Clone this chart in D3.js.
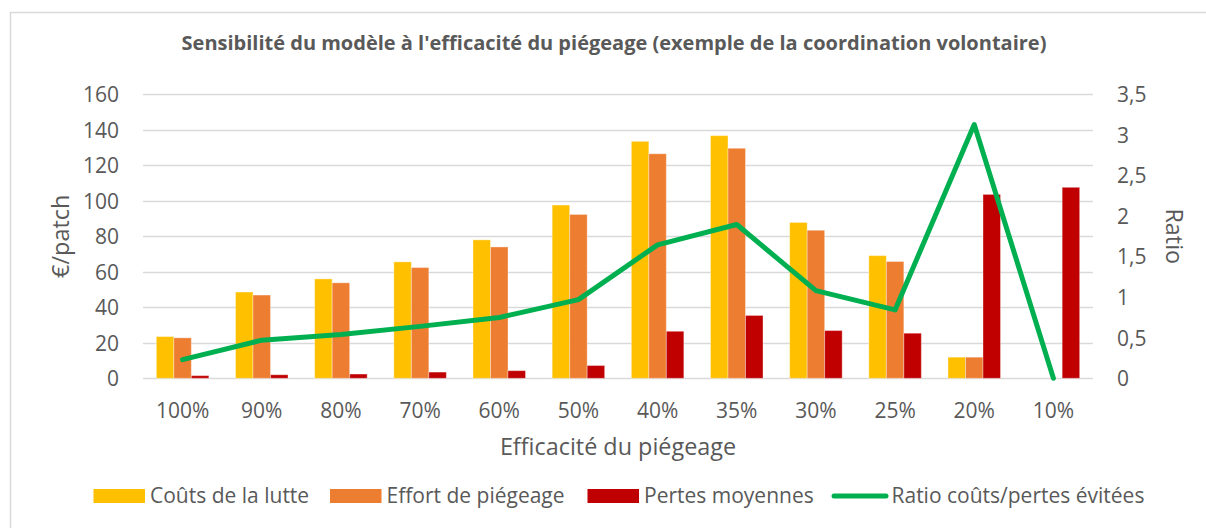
<!DOCTYPE html>
<html>
<head>
<meta charset="utf-8">
<script src="https://cdn.jsdelivr.net/npm/d3@7"></script>
<style>
  html, body { margin: 0; padding: 0; background: #fff; }
  svg { display: block; font-family: "Open Sans", "Noto Sans", sans-serif; }
</style>
</head>
<body>
<svg id="chart" width="1206" height="528"></svg>
<script>
// Efficacité du piégeage (catégories de l'axe X)
const categories = ["100%", "90%", "80%", "70%", "60%", "50%", "40%", "35%", "30%", "25%", "20%", "10%"];
// Séries en €/patch (axe gauche)
const coutsLutte = [23.5, 48.6, 56.0, 65.6, 78.0, 97.6, 133.5, 136.7, 87.8, 69.1, 11.9, 0];
const effortPiegeage = [22.8, 46.9, 53.8, 62.4, 74.0, 92.3, 126.5, 129.6, 83.4, 65.8, 11.9, 0];
const pertesMoyennes = [1.5, 2.0, 2.4, 3.5, 4.3, 7.2, 26.5, 35.4, 26.9, 25.4, 103.6, 107.6];
// Ratio coûts/pertes évitées (axe droit)
const ratio = [0.23, 0.47, 0.54, 0.64, 0.75, 0.97, 1.645, 1.895, 1.08, 0.843, 3.128, 0];
// Graduations
const leftTicks = [0, 20, 40, 60, 80, 100, 120, 140, 160];
const rightTicks = [0, 0.5, 1, 1.5, 2, 2.5, 3, 3.5];

const seriesNames = ["Coûts de la lutte", "Effort de piégeage", "Pertes moyennes"];
const seriesColors = ["#FFC000", "#ED7D31", "#C00000"];
const lineName = "Ratio coûts/pertes évitées";
const lineColor = "#00B050";
const textColor = "#595959";
const tickSize = 21;
const axisTitleSize = 23.4;

const svg = d3.select("#chart");

// Cadre de la zone de graphique
svg.append("rect")
  .attr("x", 10.5).attr("y", 12.5)
  .attr("width", 1300).attr("height", 600)
  .attr("fill", "#fff").attr("stroke", "#D9D9D9").attr("stroke-width", 1.5);

const plot = { left: 143, right: 1093, top: 94.3, bottom: 378.3 };

const x = d3.scaleBand().domain(categories)
  .range([plot.left, plot.right]).paddingInner(0.337).paddingOuter(0.1685);
const xSub = d3.scaleBand().domain(d3.range(3)).range([0, x.bandwidth()]);
const yLeft = d3.scaleLinear().domain([0, 160]).range([plot.bottom, plot.top]);
const yRight = d3.scaleLinear().domain([0, 3.5]).range([plot.bottom, plot.top]);

// Titre
svg.append("text")
  .attr("x", 614).attr("y", 50)
  .attr("text-anchor", "middle")
  .attr("font-size", 20).attr("font-weight", 700)
  .attr("fill", textColor)
  .text("Sensibilité du modèle à l'efficacité du piégeage (exemple de la coordination volontaire)");

// Quadrillage horizontal
svg.append("g").selectAll("line").data(leftTicks).join("line")
  .attr("x1", plot.left).attr("x2", plot.right)
  .attr("y1", d => Math.round(yLeft(d)) + 0.5).attr("y2", d => Math.round(yLeft(d)) + 0.5)
  .attr("stroke", "#D9D9D9").attr("stroke-width", 1.3);

// Axe gauche
const axL = svg.append("g").attr("transform", `translate(${plot.left - 24},0)`)
  .call(d3.axisLeft(yLeft).tickValues(leftTicks).tickSize(0).tickPadding(0));
axL.select(".domain").remove();
axL.selectAll("text").attr("font-size", tickSize).attr("fill", textColor)
  .attr("font-family", "Open Sans").attr("dy", "0.35em");

// Axe droit
const fmtR = d => String(d).replace(".", ",");
const axR = svg.append("g").attr("transform", `translate(${plot.right + 24},0)`)
  .call(d3.axisRight(yRight).tickValues(rightTicks).tickFormat(fmtR).tickSize(0).tickPadding(0));
axR.select(".domain").remove();
axR.selectAll("text").attr("font-size", tickSize).attr("fill", textColor)
  .attr("font-family", "Open Sans").attr("dy", "0.35em");

// Axe X
const axX = svg.append("g").attr("transform", `translate(0,${plot.bottom})`)
  .call(d3.axisBottom(x).tickSize(0).tickPadding(0));
axX.select(".domain").remove();
axX.selectAll("text").attr("font-size", tickSize).attr("fill", textColor)
  .attr("font-family", "Open Sans").attr("dy", 0).attr("y", 39.5);

// Titres des axes
svg.append("text")
  .attr("x", (plot.left + plot.right) / 2).attr("y", 454.5)
  .attr("text-anchor", "middle").attr("font-size", axisTitleSize).attr("fill", textColor)
  .text("Efficacité du piégeage");
svg.append("text")
  .attr("transform", `translate(69,${(plot.top + plot.bottom) / 2}) rotate(-90)`)
  .attr("text-anchor", "middle").attr("font-size", axisTitleSize).attr("fill", textColor)
  .text("€/patch");
svg.append("text")
  .attr("transform", `translate(1166,${(plot.top + plot.bottom) / 2}) rotate(90)`)
  .attr("text-anchor", "middle").attr("font-size", axisTitleSize).attr("fill", textColor)
  .text("Ratio");

// Barres groupées
const barData = categories.map((c, i) => ({
  cat: c,
  vals: [coutsLutte[i], effortPiegeage[i], pertesMoyennes[i]]
}));
const groups = svg.append("g").selectAll("g").data(barData).join("g")
  .attr("transform", d => `translate(${x(d.cat)},0)`);
groups.selectAll("rect")
  .data(d => d.vals.map((v, k) => ({ v, k })).filter(e => e.v > 0))
  .join("rect")
  .attr("x", e => xSub(e.k))
  .attr("width", xSub.bandwidth())
  .attr("y", e => yLeft(e.v))
  .attr("height", e => yLeft(0) - yLeft(e.v))
  .attr("fill", e => seriesColors[e.k])
  .attr("stroke", "rgba(255,255,255,0.35)").attr("stroke-width", 1);

// Courbe du ratio
const line = d3.line()
  .x((d, i) => x(categories[i]) + x.bandwidth() / 2)
  .y(d => yRight(d));
svg.append("path").datum(ratio)
  .attr("d", line)
  .attr("fill", "none").attr("stroke", lineColor)
  .attr("stroke-width", 5).attr("stroke-linejoin", "round").attr("stroke-linecap", "round");

// Légende
const legendY = 496;
const legendItems = [
  { name: seriesNames[0], color: seriesColors[0], x: 93.5, type: "rect" },
  { name: seriesNames[1], color: seriesColors[1], x: 330, type: "rect" },
  { name: seriesNames[2], color: seriesColors[2], x: 587.5, type: "rect" },
  { name: lineName, color: lineColor, x: 832, type: "line" }
];
const leg = svg.append("g").selectAll("g").data(legendItems).join("g")
  .attr("transform", d => `translate(${d.x},${legendY})`);
leg.filter(d => d.type === "rect").append("rect")
  .attr("x", 0).attr("y", -7).attr("width", 51.5).attr("height", 14)
  .attr("fill", d => d.color);
leg.filter(d => d.type === "line").append("line")
  .attr("x1", 2).attr("x2", 54).attr("y1", 0).attr("y2", 0)
  .attr("stroke", d => d.color).attr("stroke-width", 5).attr("stroke-linecap", "round");
leg.append("text")
  .attr("x", d => d.type === "rect" ? 56.5 : 59.5).attr("y", 0).attr("dy", "0.35em")
  .attr("font-size", tickSize).attr("fill", textColor)
  .text(d => d.name);
</script>
</body>
</html>
